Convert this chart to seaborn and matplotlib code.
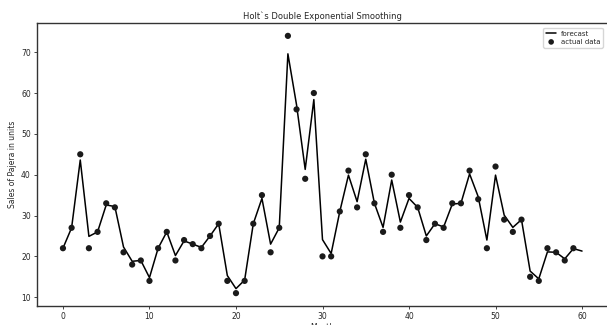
import matplotlib
matplotlib.use("Agg")
import matplotlib.pyplot as plt
import seaborn as sns
import numpy as np
import pandas as pd

months_actual = list(range(60))
actual = [22, 27, 45, 22, 26, 33, 32, 21, 18, 19,
          14, 22, 26, 19, 24, 23, 22, 25, 28, 14,
          11, 14, 28, 35, 21, 27, 74, 56, 39, 60,
          20, 20, 31, 41, 32, 45, 33, 26, 40, 27,
          35, 32, 24, 28, 27, 33, 33, 41, 34, 22,
          42, 29, 26, 29, 15, 14, 22, 21, 19, 22]

months_forecast = list(range(61))
forecast = [22, 27, 43.6, 24.9, 26, 32.6, 32.2, 22.3, 18.8, 19,
            14.8, 22, 26, 20.2, 23.8, 23, 22.2, 25, 28, 15.3,
            12.1, 14.2, 28, 34.2, 23, 27, 69.6, 57.1, 41.3, 58.4,
            24.1, 20.7, 31, 39.9, 33.4, 43.8, 33, 27.1, 38.7, 28.4,
            34.2, 32, 25, 28, 27.2, 32.8, 33, 40.2, 34.6, 24,
            39.9, 30.1, 27.1, 29, 16.4, 14.5, 21.1, 21, 19.4, 21.9, 21.3]

title = "Holt`s Double Exponential Smoothing"
xlabel = "Month"
ylabel = "Sales of Pajera in units"

sns.set_style("ticks")
plt.rcParams['font.family'] = ['DejaVu Sans']

df_a = pd.DataFrame({"Month": months_actual, "value": actual})
df_f = pd.DataFrame({"Month": months_forecast, "value": forecast})

fig = plt.figure(figsize=(6.07, 3.25), dpi=100)
ax = fig.add_axes([37/607, 19/325, 571/607, 283/325])

sns.lineplot(data=df_f, x="Month", y="value", ax=ax, color="black",
             linewidth=1.1, label="forecast")
sns.scatterplot(data=df_a, x="Month", y="value", ax=ax, color="#1a1a1a",
                s=20, edgecolor="none", label="actual data", zorder=3)

ax.set_xlim(-3, 63)
ax.set_ylim(7.85, 77.15)
ax.set_xticks([0, 10, 20, 30, 40, 50, 60])
ax.set_yticks([10, 20, 30, 40, 50, 60, 70])
ax.tick_params(labelsize=5.5, length=2.5, width=0.6, pad=2)
for s in ax.spines.values():
    s.set_linewidth(1.0)
    s.set_color("#333333")
ax.set_title(title, fontsize=6.0, pad=3)
ax.set_xlabel(xlabel, fontsize=5.5, labelpad=1)
ax.set_ylabel(ylabel, fontsize=5.5, labelpad=3)
leg = ax.legend(loc="upper right", fontsize=5.0, frameon=True,
                borderpad=0.4, labelspacing=0.3, handlelength=1.5,
                handletextpad=0.6, markerscale=0.9,
                bbox_to_anchor=(0.997, 0.995))

fig.savefig("out.png", dpi=100)
